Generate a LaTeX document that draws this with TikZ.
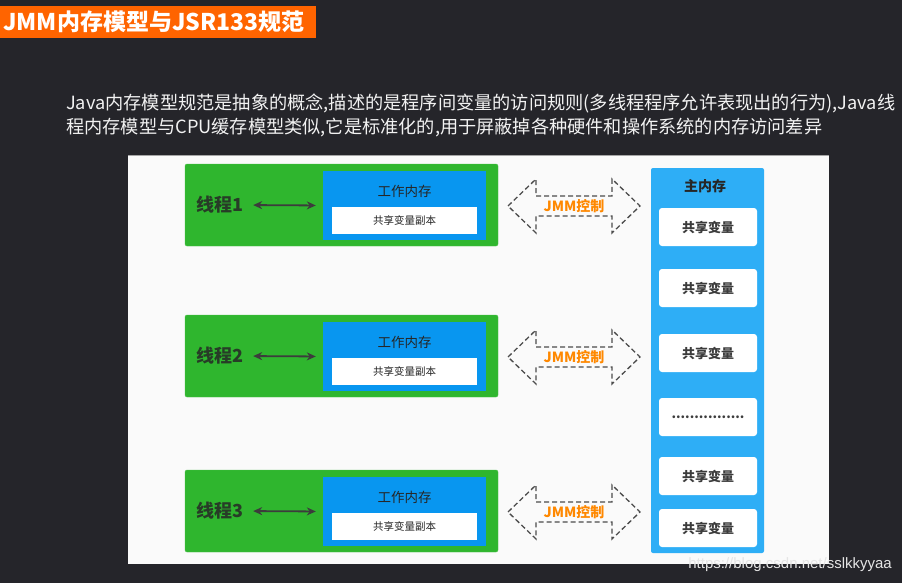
\documentclass[tikz,border=0pt]{standalone}
\usepackage{fontspec}
\setmainfont{Noto Sans CJK SC}
\newfontfamily\markfont{Liberation Sans}
\usepackage{xcolor}
\usetikzlibrary{arrows.meta}
\definecolor{bgdark}{RGB}{37,37,42}
\definecolor{titleorange}{RGB}{255,100,0}
\definecolor{panelgray}{RGB}{250,250,250}
\definecolor{threadgreen}{RGB}{47,182,46}
\definecolor{workblue}{RGB}{8,150,240}
\definecolor{mainblue}{RGB}{46,174,246}
\definecolor{jmmorange}{RGB}{255,136,0}
\definecolor{txtdark}{RGB}{38,38,38}
\tikzset{threadbox/.style={fill=threadgreen, draw=threadgreen!85!white, rounded corners=2pt,
   minimum width=313pt, minimum height=82pt},
 threadlabel/.style={inner sep=0pt, text=txtdark!85!threadgreen,
   font=\fontsize{18}{18}\selectfont\bfseries},
 workbox/.style={fill=workblue, draw=none, minimum width=163pt, minimum height=69pt},
 worktitle/.style={inner sep=0pt, text=txtdark, font=\fontsize{13.5}{13.5}\selectfont},
 copybox/.style={fill=white, inner sep=0pt, text=txtdark,
   minimum width=145pt, minimum height=27pt, font=\fontsize{10.5}{10.5}\selectfont},
 syncarrow/.style={{Stealth[length=9pt,width=8pt]}-{Stealth[length=9pt,width=8pt]},
   line width=1.8pt, draw=txtdark!90},
 jmmarrow/.style={draw=black!70, line width=1.3pt, dash pattern=on 5pt off 3pt},
 jmmlabel/.style={inner sep=0pt, text=jmmorange, font=\fontsize{14}{14}\selectfont\bfseries},
 mainmem/.style={fill=mainblue, rounded corners=2pt, minimum width=113pt, minimum height=385pt},
 varbox/.style={fill=white, rounded corners=3pt, text=txtdark!90,
   minimum width=98pt, minimum height=38pt, font=\fontsize{13}{13}\selectfont\bfseries},
 paratext/.style={anchor=west, inner sep=0pt, text=white!90!gray,
   font=\fontsize{18.2}{18.2}\selectfont},
 }

\begin{document}
\begin{tikzpicture}[x=1pt, y=-1pt]
        \useasboundingbox (0,0) rectangle (902,583);
        \fill[bgdark] (0,0) rectangle (902,583);
        % title bar
        \fill[titleorange] (0,6) rectangle (316,38);
        \node[anchor=west, inner sep=0pt, text=white, font=\fontsize{23}{23}\selectfont\bfseries]
            (title) at (3,22) {JMM内存模型与JSR133规范};
        \node[paratext] (line1) at (66,103)
            {Java内存模型规范是抽象的概念,描述的是程序间变量的访问规则(多线程程序允许表现出的行为),Java线};
        \node[paratext] (line2) at (66,128)
            {程内存模型与CPU缓存模型类似,它是标准化的,用于屏蔽掉各种硬件和操作系统的内存访问差异};
        % white panel
        \fill[panelgray] (128,155) rectangle (829,564);
        \draw[gray!70, line width=1pt] (128,155) -- (829,155);
        % threads
        \foreach \n/\cy in {1/205, 2/356, 3/511} {
            \node[threadbox] (g\n) at (341.5,\cy) {};
            \node[threadlabel] (t\n) at (219.5,\cy) {线程\n};
            \node[workbox] (w\n) at (404.5,\cy+0.5) {};
            \node[worktitle] (wt\n) at (404.5,\cy-14) {工作内存};
            \node[copybox] (c\n) at (404.5,\cy+15.5) {共享变量副本};
            \draw[syncarrow, shorten <=10pt, shorten >=7pt] (t\n.east) -- (w\n.west);
            \node[jmmlabel] (j\n) at (574,\cy+1) {JMM控制};
            \begin{scope}[shift={(j\n.center)}]
                \draw[jmmarrow] (-66,0) -- (-38,-27) -- (-38,-10) -- (38,-10) -- (38,-27)
                    -- (66,0) -- (38,27) -- (38,10) -- (-38,10) -- (-38,27) -- cycle;
            \end{scope}
        }
        % main memory
        \node[mainmem] (mm) at (707.5,360.5) {};
        \node[inner sep=0pt, text=txtdark, font=\fontsize{14}{14}\selectfont\bfseries]
            (mmt) at (705,186) {主内存};
        \foreach \i/\y/\t in {1/227/共享变量, 2/288/共享变量, 3/353/共享变量,
                              4/417/{................}, 5/476/共享变量, 6/528/共享变量} {
            \node[varbox] (v\i) at (708,\y) {\t};
        }
        \node[anchor=east, inner sep=0pt, text=white!80!gray, font=\markfont\fontsize{15}{15}\selectfont]
            (mark) at (892,565) {https://blog.csdn.net/sslkkyyaa};
    \end{tikzpicture}
\end{document}
